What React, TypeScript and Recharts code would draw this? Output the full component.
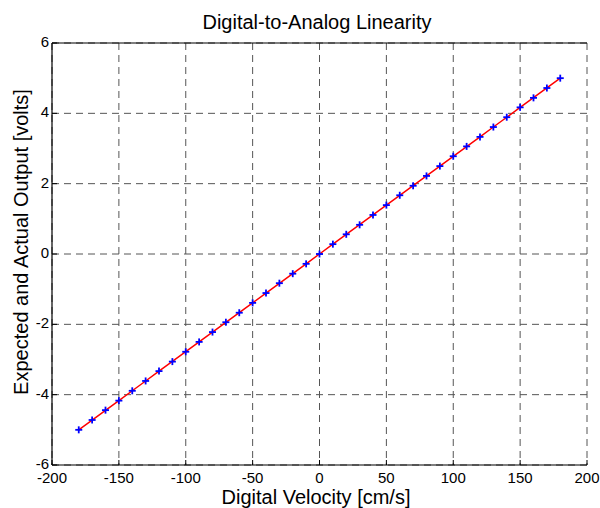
import React from "react";
import {
  ComposedChart,
  Line,
  XAxis,
  YAxis,
  CartesianGrid,
} from "recharts";

// Digital velocity commands [cm/s]
const velocity = [
  -180, -170, -160, -150, -140, -130, -120, -110, -100, -90, -80, -70, -60, -50, -40, -30, -20, -10,
  0, 10, 20, 30, 40, 50, 60, 70, 80, 90, 100, 110, 120, 130, 140, 150, 160, 170, 180,
];

// Expected output [volts]
const expected = [
  -5.0, -4.722, -4.444, -4.167, -3.889, -3.611, -3.333, -3.056, -2.778, -2.5, -2.222, -1.944, -1.667,
  -1.389, -1.111, -0.833, -0.556, -0.278, 0, 0.278, 0.556, 0.833, 1.111, 1.389, 1.667, 1.944, 2.222,
  2.5, 2.778, 3.056, 3.333, 3.611, 3.889, 4.167, 4.444, 4.722, 5.0,
];

// Actual (measured) output [volts]
const actual = [
  -5.0, -4.72, -4.44, -4.17, -3.89, -3.61, -3.33, -3.06, -2.78, -2.5, -2.22, -1.94, -1.67,
  -1.39, -1.11, -0.83, -0.56, -0.28, 0, 0.28, 0.56, 0.83, 1.11, 1.39, 1.67, 1.94, 2.22,
  2.5, 2.78, 3.06, 3.33, 3.61, 3.89, 4.17, 4.44, 4.72, 5.0,
];

const xTicks = [-200, -150, -100, -50, 0, 50, 100, 150, 200];
const yTicks = [-6, -4, -2, 0, 2, 4, 6];

const data = velocity.map((v, i) => ({ v, expected: expected[i], actual: actual[i] }));

const FONT = "'Liberation Sans', Arial, sans-serif";
const TICK_FS = 15;

const PlusDot = (props: any) => {
  const { cx, cy, index } = props;
  if (cx == null || cy == null) return null;
  const s = 3.5;
  return (
    <g key={`p-${index}`}>
      <line x1={cx - s} y1={cy} x2={cx + s} y2={cy} stroke="#0000ff" strokeWidth={1.8} />
      <line x1={cx} y1={cy - s} x2={cx} y2={cy + s} stroke="#0000ff" strokeWidth={1.8} />
    </g>
  );
};

// bottom axis tick label, baseline ~18px below the axis
const XTick = (props: any) => {
  const { x, payload } = props;
  return (
    <text x={x} y={483} textAnchor="middle" fontSize={TICK_FS} fontFamily={FONT} fill="#000">
      {payload.value}
    </text>
  );
};

const YTick = (props: any) => {
  const { y, payload } = props;
  return (
    <text x={49} y={y + 4} textAnchor="end" fontSize={TICK_FS} fontFamily={FONT} fill="#000">
      {payload.value}
    </text>
  );
};

export default function App() {
  return (
    <div style={{ position: "fixed", left: 0, top: 0, width: 600, height: 508, background: "#fff" }}>
      <svg width={600} height={508} style={{ position: "absolute", left: 0, top: 0, pointerEvents: "none" }}>
        <text x={317} y={29} textAnchor="middle" fontSize={20} fontFamily={FONT} fill="#000">
          Digital-to-Analog Linearity
        </text>
        <text x={316} y={504} textAnchor="middle" fontSize={20} fontFamily={FONT} fill="#000">
          Digital Velocity [cm/s]
        </text>
        <text
          x={0}
          y={0}
          transform="translate(28,242) rotate(-90)"
          textAnchor="middle"
          fontSize={20}
          fontFamily={FONT}
          fill="#000"
        >
          Expected and Actual Output [volts]
        </text>
      </svg>
      <ComposedChart
        width={600}
        height={508}
        data={data}
        margin={{ top: 0, right: 13, bottom: 0, left: 0 }}
        style={{ position: "absolute", left: 0, top: 0 }}
      >
        <CartesianGrid
          xAxisId="b"
          yAxisId="l"
          stroke="#555"
          strokeDasharray="7 5"
          strokeWidth={1}
        />
        <XAxis
          xAxisId="b"
          dataKey="v"
          type="number"
          domain={[-200, 200]}
          ticks={xTicks}
          height={43}
          tick={<XTick />}
          tickSize={-5}
          axisLine={{ stroke: "#000", strokeWidth: 1.2 }}
          tickLine={{ stroke: "#000" }}
        />
        <XAxis
          xAxisId="t"
          orientation="top"
          dataKey="v"
          type="number"
          domain={[-200, 200]}
          ticks={xTicks}
          height={43}
          tick={false}
          tickSize={-5}
          axisLine={{ stroke: "#000", strokeWidth: 1.2 }}
          tickLine={{ stroke: "#000" }}
        />
        <YAxis
          yAxisId="l"
          type="number"
          domain={[-6, 6]}
          ticks={yTicks}
          width={52}
          tick={<YTick />}
          tickSize={-5}
          axisLine={{ stroke: "#000", strokeWidth: 1.2 }}
          tickLine={{ stroke: "#000" }}
        />
        <YAxis
          yAxisId="r"
          orientation="right"
          type="number"
          domain={[-6, 6]}
          ticks={yTicks}
          width={0}
          tick={false}
          tickSize={-5}
          axisLine={{ stroke: "#000", strokeWidth: 1.2 }}
          tickLine={{ stroke: "#000" }}
        />
        <Line
          xAxisId="b"
          yAxisId="l"
          dataKey="expected"
          type="linear"
          stroke="#ff0000"
          strokeWidth={1.5}
          dot={false}
          activeDot={false}
          isAnimationActive={false}
        />
        <Line
          xAxisId="b"
          yAxisId="l"
          dataKey="actual"
          type="linear"
          stroke="none"
          dot={PlusDot}
          activeDot={false}
          isAnimationActive={false}
        />
      </ComposedChart>
    </div>
  );
}
